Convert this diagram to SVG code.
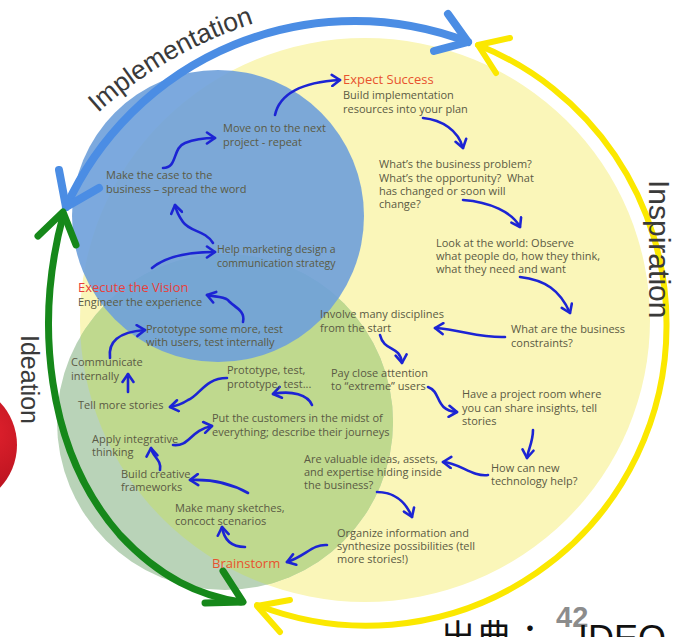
<svg xmlns="http://www.w3.org/2000/svg" width="684" height="637" viewBox="0 0 684 637">
<defs>
<style>
.t{font-family:"Open Sans","Liberation Sans",sans-serif;font-size:11px;fill:#5a5a44}
.s{font-size:10.5px}
.h{font-family:"Open Sans","Liberation Sans",sans-serif;font-size:13px;fill:#e8532e}
.big{font-family:"Liberation Sans",Arial,sans-serif;font-size:25px;fill:#3a3a3a}
.c{fill:none;stroke:#1c24d4;stroke-width:2.6;stroke-linecap:round;stroke-linejoin:round;marker-end:url(#ah)}
.ring{fill:none;stroke-linecap:round;stroke-linejoin:round}
</style>
<marker id="ah" viewBox="-10 -7 12 14" markerWidth="12" markerHeight="14" refX="0" refY="0" orient="auto" markerUnits="userSpaceOnUse">
<path d="M-8,-5.5 L0,0 L-8,5.5" fill="none" stroke="#1c24d4" stroke-width="2.6" stroke-linecap="round" stroke-linejoin="round"/>
</marker>
<radialGradient id="red" cx="0.75" cy="0.4" r="0.7"><stop offset="0" stop-color="#e2222e"/><stop offset="1" stop-color="#a80c18"/></radialGradient>
<clipPath id="yc"><ellipse cx="365" cy="320" rx="285" ry="282"/></clipPath>
<path id="ip" d="M98,113 A430,430 0 0 1 420,4"/>
</defs>
<rect width="684" height="637" fill="#fff"/>
<g id="background">
<circle cx="-45" cy="445" r="62" fill="url(#red)"/>
<ellipse cx="365" cy="320" rx="285" ry="282" fill="#faf6b9"/>
<circle cx="225" cy="422" r="168" fill="#b9d3b8"/>
<circle cx="225" cy="422" r="168" fill="#bfd98e" clip-path="url(#yc)"/>
<circle cx="218" cy="216" r="146" fill="#6ea0da" fill-opacity="0.9"/>
</g>
<g id="cycle">
<path class="ring" d="M66,207 A317,317 0 0 1 468,42" stroke="#4b8de4" stroke-width="8"/>
<polyline class="ring" points="59,170 66,207 99,188" stroke="#4b8de4" stroke-width="8"/>
<polyline class="ring" points="448,14 468,42 434,51" stroke="#4b8de4" stroke-width="8"/>
<path class="ring" d="M478,45 A300,300 0 0 1 666.5,323 A300,300 0 0 1 257,605" stroke="#fbe800" stroke-width="6"/>
<polyline class="ring" points="496,73 478,45 510,38" stroke="#fbe800" stroke-width="6"/>
<polyline class="ring" points="290,600 257,606 280,632" stroke="#fbe800" stroke-width="6"/>
<path class="ring" d="M63,216 C35,320 45,450 120,535 C160,578 200,596 241,602" stroke="#16881a" stroke-width="7"/>
<polyline class="ring" points="38,236 63,212 76,245" stroke="#16881a" stroke-width="7"/>
<polyline class="ring" points="223,571 243,602 205,603" stroke="#16881a" stroke-width="7"/>
<text class="big" style="font-size:26.5px"><textPath href="#ip">Implementation</textPath></text>
<text class="big" style="font-size:30px" transform="translate(649,180) rotate(90)">Inspiration</text>
<text class="big" transform="translate(21,335) rotate(90)">Ideation</text>
</g>
<g id="connectors">
<path class="c" d="M275,115 C280,92 305,82 340,80"/>
<path class="c" d="M163,168 C178,168 172,148 185,143 C195,139 205,138 215,138"/>
<path class="c" d="M213,243 C205,230 190,232 183,222 C178,215 176,210 175,205"/>
<path class="c" d="M152,268 C165,257 185,252 215,252"/>
<path class="c" d="M243,322 C246,310 232,306 228,300 C222,296 214,297 207,295"/>
<path class="c" d="M110,358 C108,342 118,332 145,330"/>
<path class="c" d="M128,392 L128,374"/>
<path class="c" d="M227,378 C205,378 200,395 188,400 C182,404 176,406 170,407"/>
<path class="c" d="M312,405 C308,395 292,390 273,394"/>
<path class="c" d="M173,445 C190,447 190,430 212,426"/>
<path class="c" d="M160,470 C162,460 152,456 151,448"/>
<path class="c" d="M248,493 C232,484 212,479 190,480"/>
<path class="c" d="M245,547 C232,547 224,540 222,527"/>
<path class="c" d="M327,545 C312,544 306,556 287,562"/>
<path class="c" d="M377,492 C392,492 405,500 412,517"/>
<path class="c" d="M488,475 C472,477 460,463 443,462"/>
<path class="c" d="M533,430 C533,442 528,450 527,458"/>
<path class="c" d="M428,387 C442,392 434,410 457,412"/>
<path class="c" d="M380,335 C384,352 400,345 402,363"/>
<path class="c" d="M505,337 C480,338 462,330 435,328"/>
<path class="c" d="M520,277 C545,280 560,290 570,313"/>
<path class="c" d="M463,200 C490,202 512,212 520,227"/>
<path class="c" d="M423,118 C442,120 458,130 463,148"/>
</g>
<g id="n-move-on"><text class="t" x="223" y="132">Move on to the next</text><text class="t" x="223" y="146">project - repeat</text></g>
<g id="n-make-case"><text class="t" x="106" y="179">Make the case to the</text><text class="t" x="106" y="193">business – spread the word</text></g>
<g id="n-help-marketing"><text class="t s" x="217" y="253">Help marketing design a</text><text class="t s" x="217" y="267">communication strategy</text></g>
<g id="n-execute"><text class="h" x="78" y="292" style="fill:#e8403a">Execute the Vision</text><text class="t" x="78" y="306">Engineer the experience</text></g>
<g id="n-expect"><text class="h" x="343" y="84">Expect Success</text><text class="t" x="343" y="99">Build implementation</text><text class="t" x="343" y="113">resources into your plan</text></g>
<g id="n-problem"><text class="t" x="379" y="168">What’s the business problem?</text><text class="t" x="379" y="182">What’s the opportunity?&#160; What</text><text class="t" x="379" y="195">has changed or soon will</text><text class="t" x="379" y="208">change?</text></g>
<g id="n-look"><text class="t" x="436" y="247">Look at the world: Observe</text><text class="t" x="436" y="260">what people do, how they think,</text><text class="t" x="436" y="273">what they need and want</text></g>
<g id="n-constraints"><text class="t" x="511" y="333">What are the business</text><text class="t" x="511" y="347">constraints?</text></g>
<g id="n-involve"><text class="t" x="320" y="318">Involve many disciplines</text><text class="t" x="320" y="332">from the start</text></g>
<g id="n-pay"><text class="t" x="331" y="377">Pay close attention</text><text class="t" x="331" y="390">to “extreme” users</text></g>
<g id="n-room"><text class="t" x="462" y="398">Have a project room where</text><text class="t" x="462" y="412">you can share insights, tell</text><text class="t" x="462" y="425">stories</text></g>
<g id="n-tech"><text class="t" x="491" y="472">How can new</text><text class="t" x="491" y="485">technology help?</text></g>
<g id="n-valuable"><text class="t" x="304" y="463">Are valuable ideas, assets,</text><text class="t" x="304" y="476">and expertise hiding inside</text><text class="t" x="304" y="489">the business?</text></g>
<g id="n-organize"><text class="t" x="337" y="537">Organize information and</text><text class="t" x="337" y="550">synthesize possibilities (tell</text><text class="t" x="337" y="563">more stories!)</text></g>
<g id="n-brainstorm"><text class="h" x="212" y="568">Brainstorm</text></g>
<g id="n-sketches"><text class="t" x="175" y="512">Make many sketches,</text><text class="t" x="175" y="525">concoct scenarios</text></g>
<g id="n-frameworks"><text class="t" x="121" y="478">Build creative</text><text class="t" x="121" y="491">frameworks</text></g>
<g id="n-apply"><text class="t" x="92" y="443">Apply integrative</text><text class="t" x="92" y="456">thinking</text></g>
<g id="n-customers"><text class="t" x="212" y="422">Put the customers in the midst of</text><text class="t" x="212" y="436">everything; describe their journeys</text></g>
<g id="n-tell"><text class="t" x="78" y="409">Tell more stories</text></g>
<g id="n-communicate"><text class="t" x="71" y="366">Communicate</text><text class="t" x="71" y="380">internally</text></g>
<g id="n-prototype-more"><text class="t" x="146" y="333">Prototype some more, test</text><text class="t" x="146" y="346">with users, test internally</text></g>
<g id="n-prototype-test"><text class="t" x="227" y="374">Prototype, test,</text><text class="t" x="227" y="388">prototype, test...</text></g>
<g id="footer">
<text x="556" y="627" font-family="Liberation Sans,Arial,sans-serif" font-size="29" font-weight="bold" fill="#8c8c8c">42</text>
<text x="440" y="651" font-family="Liberation Sans,'Noto Sans CJK JP',sans-serif" font-size="36" fill="#111">出典：<tspan dx="30">IDEO</tspan></text>
</g>
</svg>
